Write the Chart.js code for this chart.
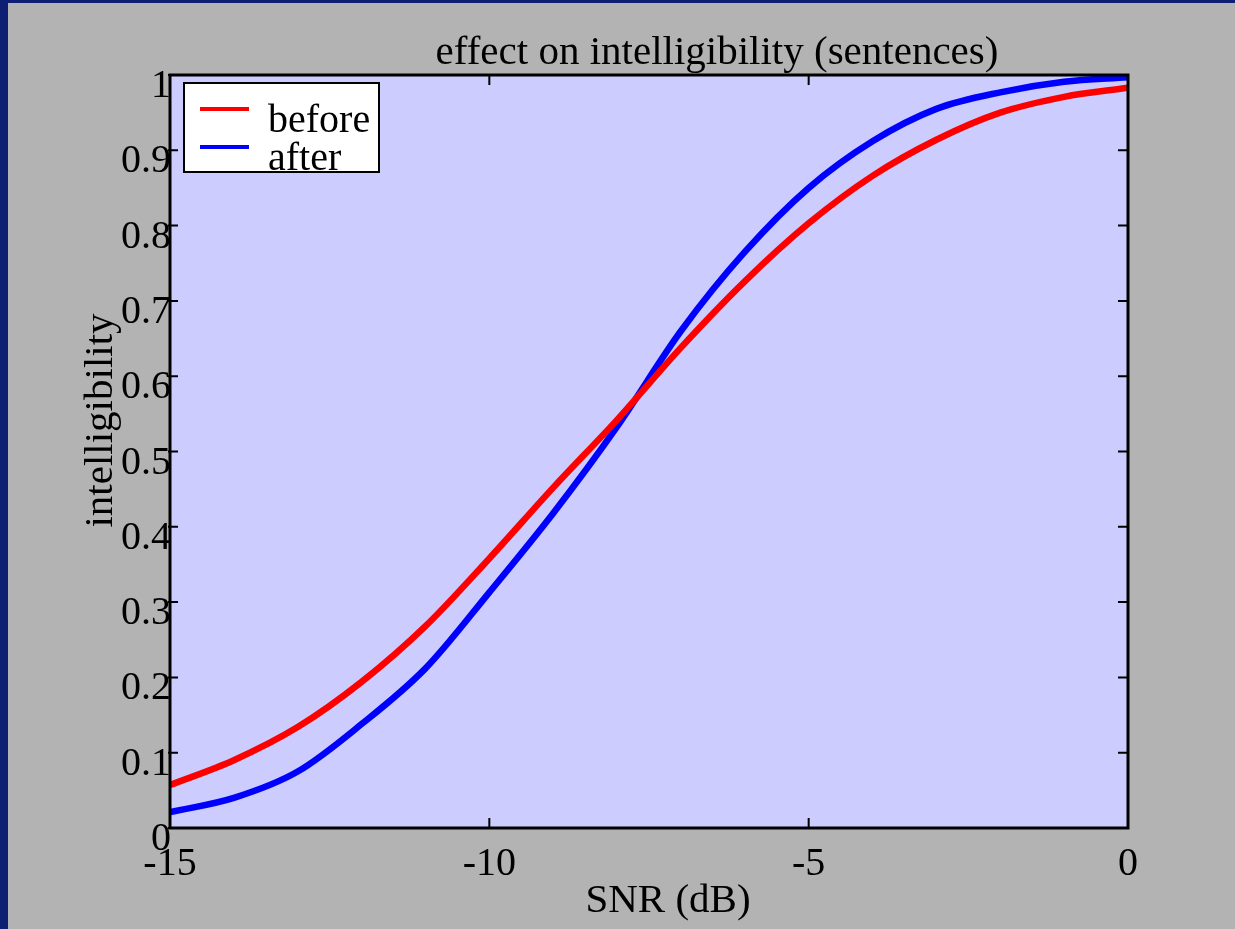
<!DOCTYPE html>
<html>
<head>
<meta charset="utf-8">
<script src="https://cdn.jsdelivr.net/npm/chart.js@4.4.1/dist/chart.umd.min.js"></script>
<style>
  html, body { margin: 0; padding: 0; background: #0c1f72; width: 1235px; height: 929px; overflow: hidden; }
  #wrap { position: absolute; left: 8px; top: 3px; width: 1227px; height: 926px; background: #b3b3b3; }
</style>
</head>
<body>
<div id="wrap"><canvas id="snrChart"></canvas></div>
<script>
const snrDb = [-15, -14, -13, -12, -11, -10, -9, -8, -7, -6, -5, -4, -3, -2, -1, 0];
const before = [0.057, 0.090, 0.134, 0.194, 0.268, 0.358, 0.452, 0.542, 0.638, 0.726, 0.803, 0.866, 0.914, 0.950, 0.971, 0.983];
const after = [0.021, 0.040, 0.075, 0.138, 0.212, 0.313, 0.418, 0.533, 0.660, 0.765, 0.850, 0.912, 0.955, 0.977, 0.991, 0.997];
const xTicks = [-15, -10, -5, 0];
const yTicks = [0, 0.1, 0.2, 0.3, 0.4, 0.5, 0.6, 0.7, 0.8, 0.9, 1];
const yTickLabels = ["0", "0.1", "0.2", "0.3", "0.4", "0.5", "0.6", "0.7", "0.8", "0.9", "1"];
const chartTitle = "effect on intelligibility (sentences)";
const xTitle = "SNR (dB)";
const yTitle = "intelligibility";

const FONT = '"Liberation Serif", "Times New Roman", serif';

function toPoints(xs, ys) {
  return xs.map((x, i) => ({ x: x, y: ys[i] }));
}

const matlabAxes = {
  id: "matlabAxes",
  beforeDatasetsDraw(chart) {
    const { ctx, chartArea: a } = chart;
    ctx.save();
    ctx.fillStyle = "#ccccff";
    ctx.fillRect(a.left, a.top, a.right - a.left, a.bottom - a.top);
    ctx.restore();
  },
  afterDatasetsDraw(chart) {
    const { ctx, chartArea: a, scales } = chart;
    const xs = scales.x, ys = scales.y;
    ctx.save();
    ctx.strokeStyle = "#000";
    ctx.lineWidth = 2;
    ctx.beginPath();
    xTicks.forEach((v) => {
      const px = xs.getPixelForValue(v);
      ctx.moveTo(px, a.bottom); ctx.lineTo(px, a.bottom - 10);
      ctx.moveTo(px, a.top); ctx.lineTo(px, a.top + 10);
    });
    yTicks.forEach((v) => {
      const py = ys.getPixelForValue(v);
      ctx.moveTo(a.left - 2, py); ctx.lineTo(a.left + 8, py);
      ctx.moveTo(a.right, py); ctx.lineTo(a.right - 10, py);
    });
    ctx.stroke();
    ctx.lineWidth = 3;
    ctx.strokeRect(a.left, a.top, a.right - a.left, a.bottom - a.top);

    // tick labels
    ctx.fillStyle = "#000";
    ctx.font = "40px " + FONT;
    ctx.textAlign = "right";
    ctx.textBaseline = "alphabetic";
    yTicks.forEach((v, i) => {
      ctx.fillText(yTickLabels[i], a.left + 1, ys.getPixelForValue(v) + 22);
    });
    ctx.textAlign = "center";
    xTicks.forEach((v) => {
      ctx.fillText(String(v), xs.getPixelForValue(v), a.bottom + 47);
    });

    // titles
    ctx.font = "41px " + FONT;
    ctx.fillText(chartTitle, (a.left + a.right) / 2 + 68, a.top - 11);
    ctx.fillText(xTitle, (a.left + a.right) / 2 + 19, a.bottom + 84);
    ctx.save();
    ctx.translate(a.left - 58, (a.top + a.bottom) / 2 - 31);
    ctx.rotate(-Math.PI / 2);
    ctx.fillText(yTitle, 0, 0);
    ctx.restore();

    // legend
    const lx = a.left + 14, ly = a.top + 8, lw = 195, lh = 89;
    ctx.fillStyle = "#fff";
    ctx.fillRect(lx, ly, lw, lh);
    ctx.lineWidth = 2;
    ctx.strokeStyle = "#000";
    ctx.strokeRect(lx, ly, lw, lh);
    ctx.font = "40px " + FONT;
    ctx.textAlign = "left";
    chart.data.datasets.forEach((ds, i) => {
      const cy = ly + 26 + i * 38;
      ctx.strokeStyle = ds.borderColor;
      ctx.lineWidth = 4;
      ctx.beginPath();
      ctx.moveTo(lx + 16, cy); ctx.lineTo(lx + 65, cy);
      ctx.stroke();
      ctx.fillStyle = "#000";
      ctx.fillText(ds.label, lx + 84, cy + 23);
    });
    ctx.restore();
  },
};

const ctx = document.getElementById("snrChart").getContext("2d");
new Chart(ctx, {
  type: "line",
  data: {
    datasets: [
      {
        label: "before",
        data: toPoints(snrDb, before),
        borderColor: "#ff0000",
        borderWidth: 6.5,
        pointRadius: 0,
        cubicInterpolationMode: "monotone",
      },
      {
        label: "after",
        data: toPoints(snrDb, after),
        borderColor: "#0000ff",
        borderWidth: 6.5,
        pointRadius: 0,
        cubicInterpolationMode: "monotone",
      },
    ],
  },
  options: {
    responsive: true,
    maintainAspectRatio: false,
    animation: false,
    layout: { padding: { left: 162, top: 72, right: 107, bottom: 101 } },
    scales: {
      x: { type: "linear", min: -15, max: 0, display: false },
      y: { type: "linear", min: 0, max: 1, display: false },
    },
    plugins: {
      legend: { display: false },
      title: { display: false },
      tooltip: { enabled: false },
    },
  },
  plugins: [matlabAxes],
});
</script>
</body>
</html>
